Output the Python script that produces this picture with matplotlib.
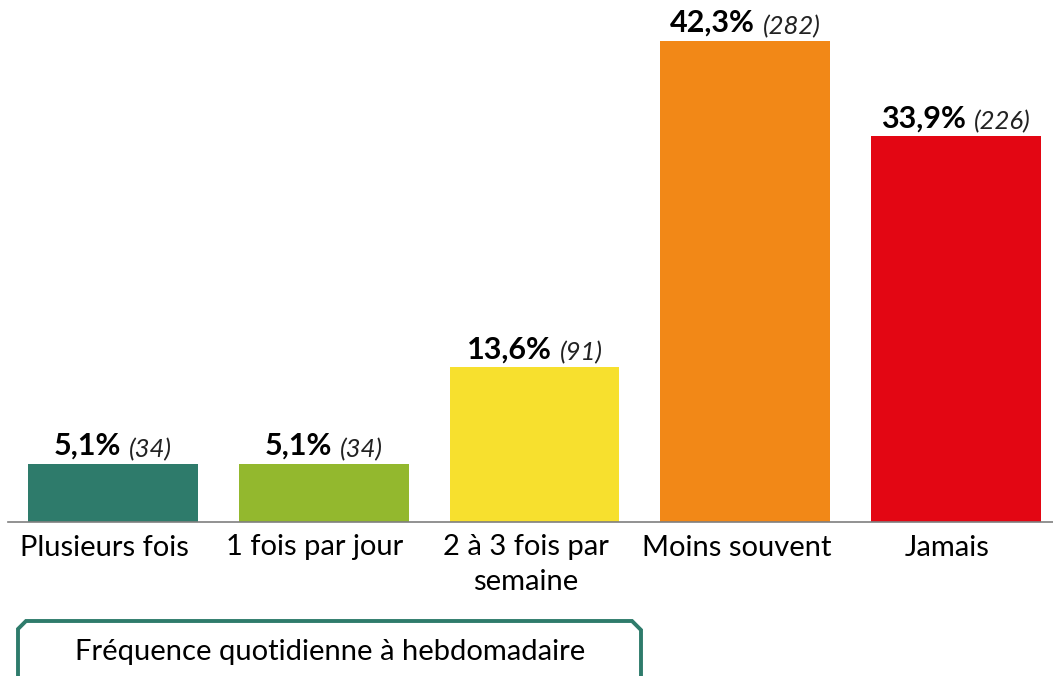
import matplotlib
matplotlib.use("Agg")
import matplotlib.pyplot as plt
from matplotlib.lines import Line2D
from matplotlib.transforms import ScaledTranslation

categories = ["Plusieurs fois", "1 fois par jour", "2 à 3 fois par\nsemaine", "Moins souvent", "Jamais"]
percents = [5.1, 5.1, 13.6, 42.3, 33.9]
counts = [34, 34, 91, 282, 226]
colors = ["#2e7b6b", "#93b82e", "#f7e02e", "#f28817", "#e30613"]
bracket_label = "Fréquence quotidienne à hebdomadaire"

plt.rcParams['font.family'] = ['Lato', 'DejaVu Sans']

W, H = 1053, 676
fig = plt.figure(figsize=(W / 100, H / 100), dpi=100)
ax = fig.add_axes([8 / W, (H - 522) / H, 1 - 8 / W, 522 / H])
x = list(range(len(categories)))
ax.bar(x, percents, width=0.805, color=colors, zorder=2)
ax.set_xlim(-0.498, 4.46)
ax.set_ylim(0, 45.9)
for s in ["top", "right", "left"]:
    ax.spines[s].set_visible(False)
ax.spines["bottom"].set_color("#7f7f7f")
ax.spines["bottom"].set_linewidth(1.2)
ax.set_yticks([])
ax.set_xticks(x)
ax.set_xticklabels(categories, fontsize=21, color="#000000", linespacing=1.4)
ax.tick_params(axis="x", length=0, pad=9)
shift = ScaledTranslation(-9 / 100, 0, fig.dpi_scale_trans)
for lbl in ax.get_xticklabels():
    lbl.set_transform(lbl.get_transform() + shift)

# value labels: bold percent + italic count, centered together
renderer = fig.canvas.get_renderer()
gap = 8
for xi, p, c in zip(x, percents, counts):
    s1 = f"{p:.1f}%".replace(".", ",")
    s2 = f"({c})"
    t1 = ax.text(xi, p, s1, fontsize=22, fontweight="bold", ha="left", va="bottom")
    t2 = ax.text(xi, p, s2, fontsize=18.5, fontstyle="italic", ha="left", va="bottom", color="#222222")
    w1 = t1.get_window_extent(renderer).width
    w2 = t2.get_window_extent(renderer).width
    cx, cy = ax.transData.transform((xi, p))
    left = cx - (w1 + gap + w2) / 2
    inv = ax.transData.inverted()
    x1, y1 = inv.transform((left, cy + 4))
    x2, y2 = inv.transform((left + w1 + gap, cy + 3))
    t1.set_position((x1, y1))
    t2.set_position((x2, y2))

# bracket below first three categories
def fx(px):
    return px / W

def fy(py):
    return (H - py) / H

bx = [18, 18, 26, 632, 641, 641]
by = [680, 629, 621, 621, 630, 680]
fig.add_artist(Line2D([fx(v) for v in bx], [fy(v) for v in by], color="#2e7b6b", lw=2.8,
                      transform=fig.transFigure, solid_joinstyle="miter"))
fig.text(fx(330), fy(652), bracket_label, fontsize=21, ha="center", va="center", color="#000000")

fig.savefig("out.png", dpi=100)
